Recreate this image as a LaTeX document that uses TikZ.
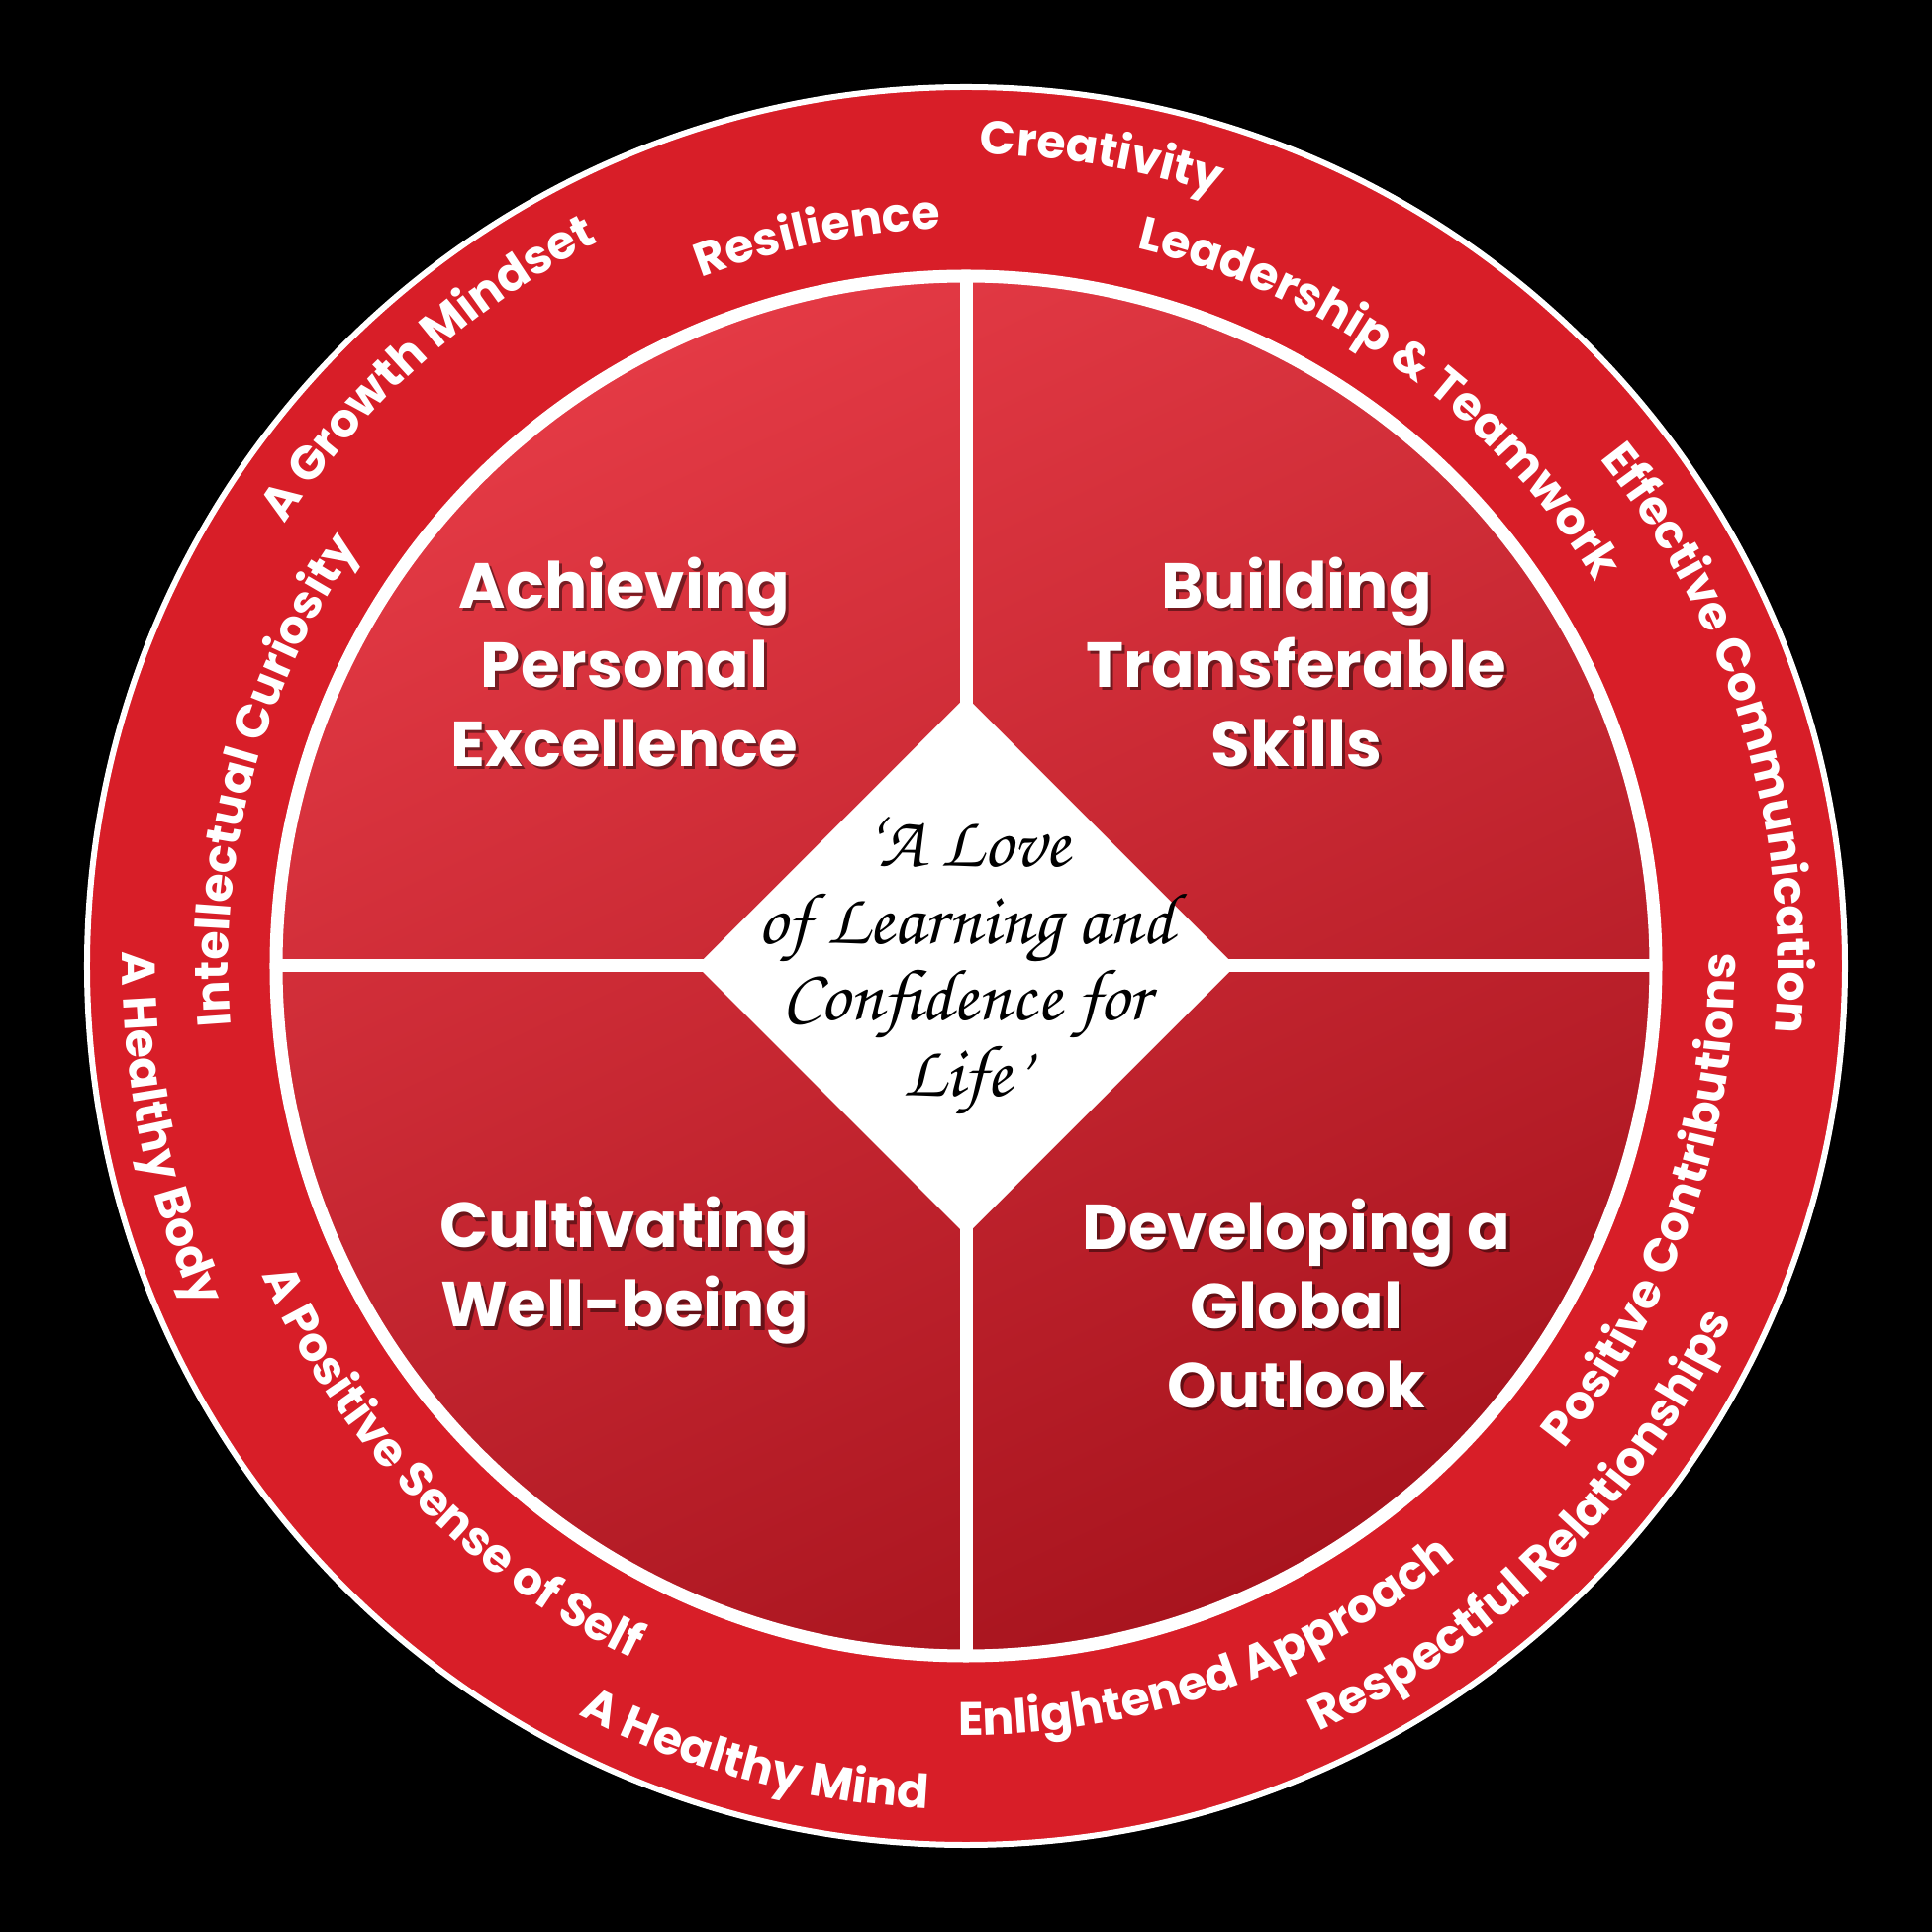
\documentclass[tikz,border=0pt]{standalone}
\usepackage{fontspec}
\usepackage{tikz}
\usetikzlibrary{decorations.text}
\newfontfamily\boldSans{Poppins}
\newfontfamily\handFont{texgyrechorus-mediumitalic.otf}
\definecolor{ringRed}{HTML}{D81E28}
\definecolor{quadLight}{HTML}{E43A45}
\definecolor{quadDark}{HTML}{A8141E}
\newcommand{\ringFont}{\boldSans\bfseries\fontsize{13.5}{16}\selectfont}
\tikzset{
  ringLabel/.style={decorate, decoration={text along path, text align=center, text color=white, text={|\ringFont|#1}}},
  quadText/.style={text=white, align=center, font=\boldSans\bfseries\fontsize{18.3}{22.8}\selectfont},
  quadShadow/.style={quadText, text=black, opacity=0.45, xshift=0.9pt, yshift=-0.9pt},
  mottoText/.style={text=black, align=center, font=\handFont\fontsize{21}{22}\selectfont},
  divider/.style={white, line width=0.13cm}
}

\begin{document}
\begin{tikzpicture}
  % background and frame
  \fill[black] (-9.76,-9.76) rectangle (9.76,9.76);
  \useasboundingbox (-9.76,-9.76) rectangle (9.76,9.76);

  % outer ring
  \fill[ringRed, draw=white, line width=0.06cm] (0,0) circle (8.88);

  % inner disc, quadrants and diamond
  \shade[top color=quadLight, bottom color=quadDark, shading angle=25] (0,0) circle (6.97);
  \draw[divider] (0,0) circle (6.97);
  \draw[divider] (0,-6.97) -- (0,6.97);
  \draw[divider] (-6.97,0) -- (6.97,0);
  \fill[white] (0,2.72) -- (2.72,0) -- (0,-2.72) -- (-2.72,0) -- cycle;

  % ring labels, upper half (clockwise)
  \path[ringLabel={Creativity}] (120.5:8.2) arc[start angle=120.5, delta angle=-80, radius=8.2];
  \path[ringLabel={Resilience}] (141.5:7.45) arc[start angle=141.5, delta angle=-80, radius=7.45];
  \path[ringLabel={A Growth Mindset}] (172:8.2) arc[start angle=172, delta angle=-80, radius=8.2];
  \path[ringLabel={Intellectual Curiosity}] (205:7.45) arc[start angle=205, delta angle=-80, radius=7.45];
  \path[ringLabel={Leadership {\&} Teamwork}] (94:7.45) arc[start angle=94, delta angle=-80, radius=7.45];
  \path[ringLabel={Effective Communication}] (57:8.2) arc[start angle=57, delta angle=-80, radius=8.2];

  % ring labels, lower half (counter-clockwise)
  \path[ringLabel={A Healthy Body}] (151.5:8.52) arc[start angle=151.5, delta angle=80, radius=8.52];
  \path[ringLabel={A Positive Sense of Self}] (184:7.77) arc[start angle=184, delta angle=80, radius=7.77];
  \path[ringLabel={A Healthy Mind}] (215:8.52) arc[start angle=215, delta angle=80, radius=8.52];
  \path[ringLabel={Enlightened Approach}] (249.5:7.77) arc[start angle=249.5, delta angle=80, radius=7.77];
  \path[ringLabel={Respectful Relationships}] (275:8.52) arc[start angle=275, delta angle=80, radius=8.52];
  \path[ringLabel={Positive Contributions}] (301:7.77) arc[start angle=301, delta angle=80, radius=7.77];

  % quadrant titles
  \node[quadShadow] (achieveShadow) at (-3.45,3.07) {Achieving\\Personal\\Excellence};
  \node[quadText] (achieve) at (-3.45,3.07) {Achieving\\Personal\\Excellence};
  \node[quadShadow] (skillsShadow) at (3.34,3.07) {Building\\Transferable\\Skills};
  \node[quadText] (skills) at (3.34,3.07) {Building\\Transferable\\Skills};
  \node[quadShadow] (wellShadow) at (-3.45,-3.08) {Cultivating\\Well-being};
  \node[quadText] (well) at (-3.45,-3.08) {Cultivating\\Well-being};
  \node[quadShadow] (globalShadow) at (3.34,-3.41) {Developing a\\Global\\Outlook};
  \node[quadText] (global) at (3.34,-3.41) {Developing a\\Global\\Outlook};

  % motto
  \node[mottoText] (motto) at (0,0) {‘A Love\\of Learning and\\Confidence for\\Life’};
\end{tikzpicture}
\end{document}
